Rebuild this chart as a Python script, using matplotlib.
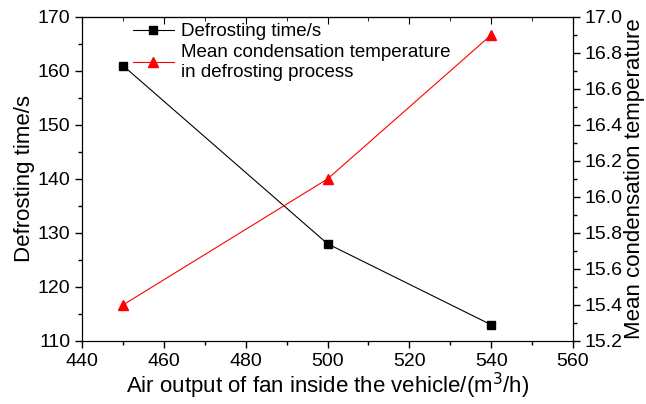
import matplotlib
matplotlib.use("Agg")
import matplotlib.pyplot as plt
from matplotlib.ticker import MultipleLocator, FormatStrFormatter

plt.rcParams['font.family'] = ['Liberation Sans', 'DejaVu Sans']

air = [450, 500, 540]
defrost_time = [161, 128, 113]
cond_temp = [15.4, 16.1, 16.9]

fig = plt.figure(figsize=(6.46, 4.04), dpi=100)
ax = fig.add_axes([0.127, 0.156, 0.76, 0.802])
ax2 = ax.twinx()

l1, = ax.plot(air, defrost_time, color='black', lw=0.8, marker='s', ms=6, label='Defrosting time/s')
l2, = ax2.plot(air, cond_temp, color='red', lw=0.8, marker='^', ms=7, label='Mean condensation temperature\nin defrosting process')

ax.set_xlim(440, 560)
ax.set_ylim(110, 170)
ax2.set_ylim(15.2, 17.0)
ax.xaxis.set_major_locator(MultipleLocator(20))
ax.xaxis.set_minor_locator(MultipleLocator(10))
ax.yaxis.set_major_locator(MultipleLocator(10))
ax.yaxis.set_minor_locator(MultipleLocator(5))
ax2.yaxis.set_major_locator(MultipleLocator(0.2))
ax2.yaxis.set_minor_locator(MultipleLocator(0.1))
ax2.yaxis.set_major_formatter(FormatStrFormatter('%.1f'))

for a in (ax, ax2):
    a.tick_params(which='major', direction='out', length=5, labelsize=14, width=1)
    a.tick_params(which='minor', direction='out', length=3, width=1)

sec = ax.secondary_xaxis('top')
sec.xaxis.set_major_locator(MultipleLocator(20))
sec.xaxis.set_minor_locator(MultipleLocator(10))
sec.tick_params(which='major', direction='in', length=5, labeltop=False)
sec.tick_params(which='minor', direction='in', length=3)

ax.set_xlabel('Air output of fan inside the vehicle/(m$^3$/h)', fontsize=16, labelpad=1)
ax.set_ylabel('Defrosting time/s', fontsize=16, labelpad=2)
ax2.set_ylabel('Mean condensation temperature', fontsize=16, labelpad=1)

ax.legend(handles=[l1, l2], loc='upper left', bbox_to_anchor=(0.08, 1.015), frameon=False,
          fontsize=13.5, handlelength=2.2, handletextpad=0.4, borderaxespad=0.2, labelspacing=0.2)

fig.savefig('out.png', dpi=100)
